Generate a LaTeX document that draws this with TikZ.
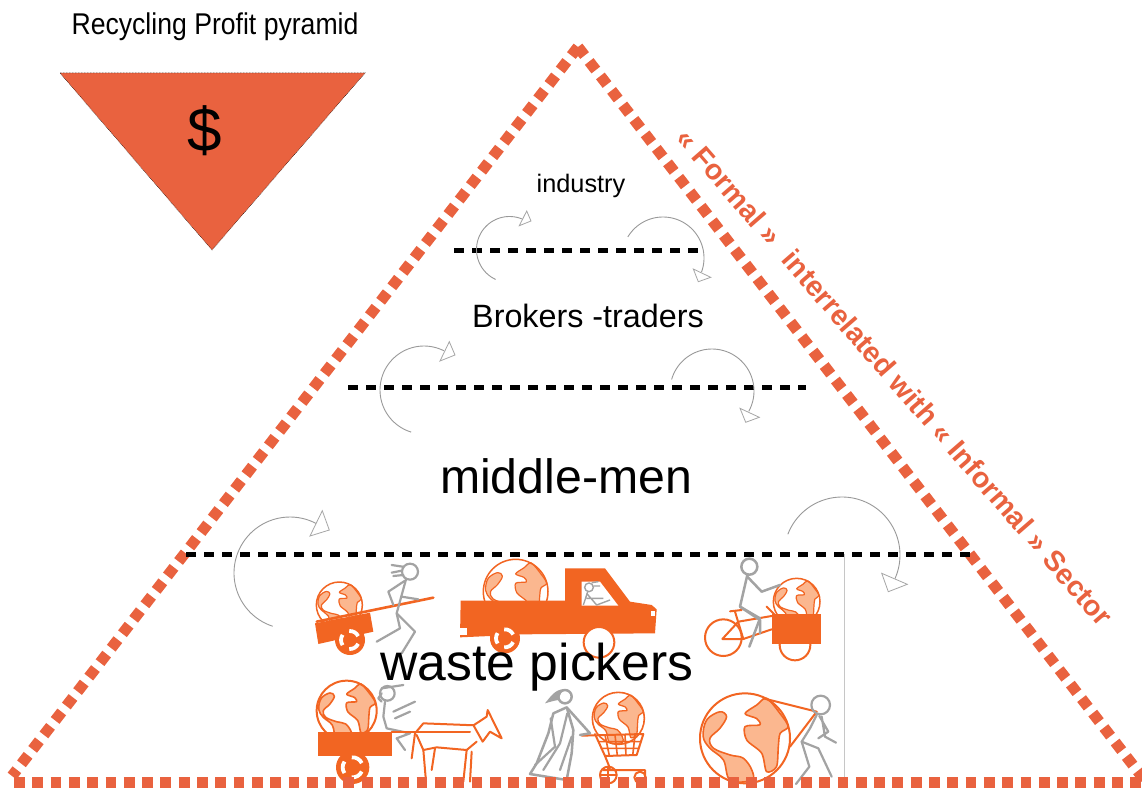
\documentclass[tikz,border=0pt]{standalone}
\usepackage{fontspec}
\setmainfont{Liberation Sans}
\usetikzlibrary{arrows.meta}
\definecolor{pyr}{HTML}{E9623F}
\definecolor{fig}{HTML}{F26522}
\definecolor{land}{HTML}{FBB78F}
\definecolor{stick}{HTML}{A3A3A3}
\tikzset{
  pyrline/.style={pyr,line width=11pt,dash pattern=on 10.8pt off 7.5pt},
  levelline/.style={black,line width=5pt,dash pattern=on 10pt off 8pt},
  turnline/.style={draw=gray!80,line width=0.9pt},
  turnhead/.style={draw=gray!70,fill=white,line width=0.8pt,line join=miter},
  stickline/.style={stick,line width=2.2pt,line join=round,line cap=round},
  stickthick/.style={stick,line width=2.5pt,line join=round,line cap=round},
  figline/.style={fig,line width=2pt,line join=round,line cap=round},
  label/.style={inner sep=0pt,text=black,anchor=center},
}
\newcommand{\myglobe}[4]{%
  \begin{scope}[shift={(#1,#2)},scale=#3]
    \fill[white] (0,0) circle (1);
    \fill[land,draw=fig,line width=.8*#4pt,line join=round] plot[smooth cycle,tension=.6] coordinates
      {(-.85,-.41)(-.56,-.59)(-.41,-.48)(-.56,-.22)(-.78,0)(-.70,.22)(-.33,.37)(-.04,.44)(.15,.70)(.15,.93)(-.33,.93)(-.48,.48)(-.78,.22)(-.93,-.04)};
    \fill[land,draw=fig,line width=.8*#4pt,line join=round] plot[smooth cycle,tension=.5] coordinates
      {(0,-.55)(.26,-.74)(.48,-.89)(.78,-.55)(.96,-.26)(.78,-.11)(.74,.19)(.7,.63)(.48,.74)(.37,.33)(.04,.04)(0,-.26)(.33,-.3)(.26,-.44)};
    \draw[fig,line width=#4pt] (0,0) circle (1);
  \end{scope}}
\newcommand{\mywheel}[3]{%
  \begin{scope}[shift={(#1,#2)},scale=#3]
    \fill[fig] (0,0) circle (1);
    \draw[white,line width=3.8pt] (25:.6) arc (25:95:.6) (145:.6) arc (145:215:.6) (265:.6) arc (265:335:.6);
    \fill[fig] (90:.25) -- (210:.25) -- (330:.25) -- cycle;
  \end{scope}}
% circular turn arrow: centre x, centre y, radius, start angle, end angle (screen clockwise)
\newcommand{\turnarc}[5]{%
  \draw[turnline] plot[domain=#4:#5,samples=50,variable=\t] ({#1+#3*cos(\t)},{#2+#3*sin(\t)});}
\begin{document}
\begin{tikzpicture}[x=1pt,y=-1pt]
\useasboundingbox (0,0) rectangle (1142,789);
\fill[white] (0,0) rectangle (1142,789);

% thin vertical rule
\coordinate (ruleT) at (844,554);
\coordinate (ruleB) at (844,780);
\draw[gray!45,line width=0.7pt] (ruleT) -- (ruleB);

% hand cart and runner
\begin{scope}[shift={(290,550)},scale=1/3]
  \myglobe{148}{165}{69}{1.5}
  \fill[fig] (75,220) -- (240,188) -- (250,245) -- (85,282) -- cycle;
  \draw[fig,line width=2.6pt,line cap=round] (80,215) -- (430,143);
  \mywheel{180}{270}{45}
  \draw[stickline] (360,65) circle (24);
  \draw[stickline] (338,50) -- (305,45) (335,62) -- (305,68) (340,75) -- (310,78);
  \draw[stickline] (348,88) -- (320,190) -- (330,235) -- (260,275);
  \draw[stickline] (320,190) -- (375,245) -- (335,310);
  \draw[stickline] (345,92) -- (295,125) -- (310,165);
  \draw[stickline] (335,140) -- (385,148);
\end{scope}

% truck
\begin{scope}[shift={(290,550)},scale=1/3]
  \myglobe{677}{125}{97}{1.5}
  \fill[fig] (512,152) -- (825,152) -- (825,55) -- (945,55) -- (1020,155) -- (1085,165) -- (1100,178)
     -- (1095,250) -- (690,253) -- (600,258) -- (510,262) -- cycle;
  \fill[white] (875,95) -- (930,95) -- (985,167) -- (875,167) -- cycle;
  \fill[white] (510,235) rectangle (530,255);
  \fill[white] (1082,182) rectangle (1096,198);
  \mywheel{645}{265}{45}
  \fill[white,draw=fig,line width=2pt] (927,277) circle (46);
  \draw[stick,line width=1.4pt] (897,112) circle (13);
  \draw[stick,line width=1.4pt] (905,98) -- (925,95) (910,108) -- (930,108);
  \draw[stick,line width=1.4pt,line join=round] (893,125) -- (885,150) -- (880,165) (890,130) -- (920,165) -- (960,150) (890,145) -- (940,145);
\end{scope}

% bicycle
\begin{scope}[shift={(660,540)},scale=1/3]
  \draw[figline] (190,293) circle (55);
  \draw[figline] (405,315) circle (46);
  \myglobe{410}{185}{70}{1.5}
  \fill[fig] (335,222) rectangle (482,313);
  \draw[figline] (187,297) -- (250,297) -- (225,215) (210,214) -- (245,210)
     (187,297) -- (235,245) -- (335,228) (250,297) -- (335,268) (320,200) -- (345,225);
  \draw[stickthick] (268,80) circle (24);
  \draw[stickthick] (262,105) -- (240,200) -- (300,235) -- (268,320);
  \draw[stickthick] (240,200) -- (300,240) -- (300,280);
  \draw[stickthick] (262,110) -- (305,155) -- (360,135);
\end{scope}

% horse cart
\begin{scope}[shift={(300,670)},scale=1/3]
  \myglobe{140}{122}{90}{2}
  \fill[fig] (55,187) rectangle (275,258);
  \mywheel{158}{292}{50}
  \draw[stickline] (262,70) circle (22);
  \draw[stickline] (245,55) -- (310,45) (245,70) -- (235,85) -- (245,95);
  \draw[stickline] (255,95) -- (250,140) -- (260,175) -- (330,190) -- (290,205) -- (315,240);
  \draw[stickline] (280,125) -- (345,95) (285,145) -- (330,125);
  \draw[figline] (275,185) -- (510,185);
  \draw[figline] (335,265) -- (345,190) -- (370,160) -- (500,165) -- (522,165) -- (560,140) -- (563,120) -- (605,205) -- (570,185) -- (548,215) -- (520,165);
  \draw[figline] (350,195) -- (370,240) -- (410,232) -- (500,240) -- (530,215);
  \draw[figline] (370,240) -- (378,335) (405,235) -- (395,300) (500,240) -- (490,335) (515,245) -- (510,335);
\end{scope}

% woman with shopping cart
\begin{scope}[shift={(530,670)},scale=1/3]
  \myglobe{265}{145}{78}{1.6}
  \draw[fig,line width=2pt,line join=round,line cap=round] (155,197) -- (340,192) -- (320,255) -- (225,258) -- (195,192);
  \draw[fig,line width=1.6pt] (205,215) -- (333,215) (212,235) -- (327,235) (225,195) -- (238,257) (255,195) -- (262,257) (285,195) -- (288,257) (315,195) -- (308,257);
  \draw[figline] (225,258) -- (240,295) (220,300) -- (345,300) -- (345,320);
  \draw[figline] (235,315) circle (25);
  \draw[figline] (235,290) -- (235,340) (212,315) -- (258,315);
  \draw[figline] (330,322) circle (17);
  \fill[stick] (100,58) .. controls (75,58) and (60,82) .. (45,100) .. controls (62,95) and (72,92) .. (85,90) .. controls (88,80) and (92,70) .. (100,58) -- cycle;
  \draw[stickthick] (105,80) circle (20);
  \draw[stickthick] (70,130) -- (110,112) -- (180,190) -- (150,195);
  \draw[stickthick] (70,130) -- (55,190) -- (20,280) -- (0,312) -- (110,330) -- (125,250) -- (130,180) -- (112,118);
  \draw[stickline] (62,145) -- (75,230) -- (15,285) (112,130) -- (90,220) -- (40,300) (125,200) -- (90,300);
\end{scope}

% large globe and puller
\begin{scope}[shift={(530,670)},scale=1/3]
  \myglobe{645}{205}{135}{2}
  \draw[figline] (700,85) -- (860,125) -- (780,230);
  \draw[stickline] (872,105) circle (28);
  \draw[stickline] (860,135) -- (840,175) -- (815,215) -- (865,235) -- (905,320);
  \draw[stickline] (815,215) -- (838,290) -- (798,342);
  \draw[stickline] (868,138) -- (895,185) -- (865,205) (875,140) -- (885,200) -- (918,218);
\end{scope}

% pyramid outline
\coordinate (apex) at (578,47);
\coordinate (baseL) at (14,782);
\coordinate (baseL2) at (12,776);
\coordinate (baseR) at (1142,782);
\coordinate (baseR2) at (1146,782);
\draw[pyrline] (apex) -- (baseL2);
\draw[pyrline] (apex) -- (baseR2);
\draw[pyrline] (baseL) -- (baseR);

% level lines
\coordinate (la) at (454,250); \coordinate (lb) at (702,250);
\coordinate (lc) at (348,387); \coordinate (ld) at (806,387);
\coordinate (le) at (186,554); \coordinate (lf) at (972,554);
\draw[levelline] (la) -- (lb);
\draw[levelline] (lc) -- (ld);
\draw[levelline] (le) -- (lf);

% turn arrows: circular arc, open triangular head
\coordinate (h1a) at (526.7,211); \coordinate (h1b) at (531,221); \coordinate (h1c) at (519.3,225.7);
\turnarc{509.5}{249.5}{33}{115}{292}
\draw[turnhead] (h1a) -- (h1b) -- (h1c) -- cycle;

\coordinate (h2a) at (693.3,269); \coordinate (h2b) at (710.7,277.3); \coordinate (h2c) at (698.3,281.7);
\turnarc{663}{258}{41}{211}{380}
\draw[turnhead] (h2a) -- (h2b) -- (h2c) -- cycle;

\coordinate (h3a) at (449.3,341.7); \coordinate (h3b) at (455,355); \coordinate (h3c) at (440,361);
\turnarc{424}{390}{44}{107}{297}
\draw[turnhead] (h3a) -- (h3b) -- (h3c) -- cycle;

\coordinate (h4a) at (740,408.3); \coordinate (h4b) at (759.3,417.3); \coordinate (h4c) at (745.7,422.3);
\turnarc{712}{391}{42}{196}{389}
\draw[turnhead] (h4a) -- (h4b) -- (h4c) -- cycle;

\coordinate (h5a) at (322.3,510.7); \coordinate (h5b) at (329.3,530); \coordinate (h5c) at (310,536);
\turnarc{290}{573}{56}{108}{298}
\draw[turnhead] (h5a) -- (h5b) -- (h5c) -- cycle;

\coordinate (h6a) at (881.7,573.3); \coordinate (h6b) at (907.3,584.3); \coordinate (h6c) at (888.3,591.7);
\turnarc{842}{555}{58}{201}{384}
\draw[turnhead] (h6a) -- (h6b) -- (h6c) -- cycle;

% inverted triangle
\coordinate (vA) at (60,73); \coordinate (vB) at (365,73); \coordinate (vC) at (212,250);
\fill[pyr] (vA) -- (vB) -- (vC) -- cycle;
\draw[black,line width=0.5pt,densely dotted] (vA) -- (vB) -- (vC) -- cycle;
\node[label] (dollar) at (205,131) {\fontsize{62}{62}\selectfont \$};

% texts
\node[label] (title) at (215,27) {\fontsize{30}{30}\selectfont\scalebox{.887}[1]{Recycling Profit pyramid}};
\node[label] (industry) at (581,186) {\fontsize{25.3}{25}\selectfont industry};
\node[label] (brokers) at (588,316) {\fontsize{32.3}{32}\selectfont Brokers -traders};
\node[label] (middle) at (566,476) {\fontsize{48.2}{48}\selectfont middle-men};
\node[label] (waste) at (537,667) {\fontsize{51.7}{52}\selectfont waste pickers};
\node[label,text=pyr,rotate=-49] (sector) at (895,377) {\fontsize{28.6}{29}\selectfont\bfseries « Formal »\hspace{10pt} interrelated with « Informal » Sector};
\end{tikzpicture}
\end{document}
